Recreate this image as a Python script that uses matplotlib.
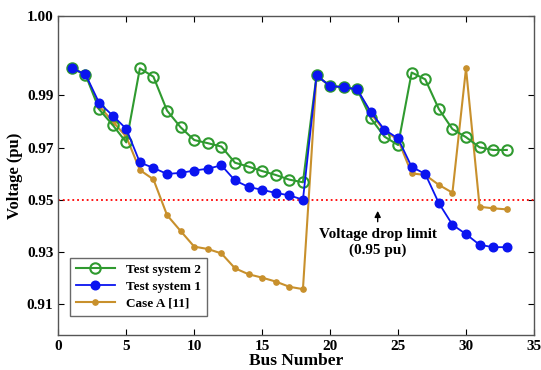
import matplotlib
matplotlib.use("Agg")
import matplotlib.pyplot as plt
import numpy as np

bus = np.arange(1, 34)

test_system_2 = [1.0005, 0.9980, 0.9847, 0.9787, 0.9720, 1.0004, 0.9972, 0.9842, 0.9778, 0.9729,
                 0.9717, 0.9704, 0.9642, 0.9627, 0.9610, 0.9595, 0.9577, 0.9567, 0.9977, 0.9936,
                 0.9932, 0.9923, 0.9812, 0.9742, 0.9710, 0.9988, 0.9962, 0.9848, 0.9771, 0.9740,
                 0.9701, 0.9691, 0.9691]

test_system_1 = [1.0004, 0.9981, 0.9872, 0.9823, 0.9772, 0.9643, 0.9622, 0.9599, 0.9603, 0.9612,
                 0.9619, 0.9632, 0.9574, 0.9549, 0.9538, 0.9526, 0.9517, 0.9500, 0.9977, 0.9936,
                 0.9932, 0.9923, 0.9836, 0.9769, 0.9735, 0.9626, 0.9599, 0.9487, 0.9404, 0.9368,
                 0.9327, 0.9318, 0.9318]

case_a = [1.0004, 0.9980, 0.9860, 0.9800, 0.9742, 0.9614, 0.9578, 0.9441, 0.9380, 0.9320,
          0.9311, 0.9294, 0.9237, 0.9214, 0.9201, 0.9186, 0.9166, 0.9157, 0.9977, 0.9936,
          0.9932, 0.9923, 0.9830, 0.9765, 0.9730, 0.9601, 0.9595, 0.9557, 0.9527, 1.0004,
          0.9473, 0.9467, 0.9463]

limit = 0.95
ytick_vals = [0.91, 0.93, 0.95, 0.97, 0.99]
ytick_labels = ["0.91", "0.93", "0.95", "0.97", "0.99"]
xtick_vals = [0, 5, 10, 15, 20, 25, 30, 35]

plt.rcParams["font.family"] = ["Liberation Serif", "DejaVu Serif"]
plt.rcParams["font.weight"] = "bold"

fig = plt.figure(figsize=(5.41, 3.70), dpi=100)
ax = fig.add_axes([0.1078, 0.0946, 0.8792, 0.8622])

green = "#2f9a2f"
blue = "#0a14f0"
orange = "#c8902c"

ax.plot(bus, test_system_2, color=green, lw=1.5, marker="o", ms=7.5,
        mfc="none", mec=green, mew=1.5, label="Test system 2", zorder=3)
ax.plot(bus, test_system_1, color=blue, lw=1.3, marker="o", ms=6.2,
        mfc=blue, mec=blue, label="Test system 1", zorder=4)
ax.plot(bus, case_a, color=orange, lw=1.5, marker="o", ms=3.8,
        mfc=orange, mec=orange, label="Case A [11]", zorder=2.5)

ax.axhline(limit, color="red", ls=":", lw=1.3, zorder=2)

ax.annotate("", xy=(23.5, 0.9468), xytext=(23.5, 0.9405),
            arrowprops=dict(arrowstyle="-|>", color="black", lw=1, mutation_scale=9))
ax.text(23.5, 0.9393, "Voltage drop limit\n(0.95 pu)", ha="center", va="top",
        fontsize=11, fontweight="bold", linespacing=1.3)

ytop = 1.0205
ax.set_xlim(0, 35)
ax.set_ylim(0.8981, ytop)
ax.set_xticks(xtick_vals)
ax.set_yticks(ytick_vals + [ytop])
ax.set_yticklabels(ytick_labels + ["1.00"])
ax.tick_params(direction="in", top=True, right=True, labelsize=11, length=4, width=0.8)
for lbl in ax.get_xticklabels() + ax.get_yticklabels():
    lbl.set_fontweight("bold")
for s in ax.spines.values():
    s.set_color("#555555")
    s.set_linewidth(1)

ax.set_xlabel("Bus Number", fontsize=12.5, fontweight="bold", labelpad=0)
ax.set_ylabel("Voltage (pu)", fontsize=12, fontweight="bold", labelpad=3)

leg = ax.legend(loc="lower left", bbox_to_anchor=(0.01, 0.04), fontsize=9.5,
                frameon=True, fancybox=False, edgecolor="#444444",
                handlelength=3.0, borderpad=0.45, labelspacing=0.35)
leg.get_frame().set_linewidth(1)
leg.set_zorder(5)
for t in leg.get_texts():
    t.set_fontweight("bold")

fig.savefig("out.png", dpi=100)
